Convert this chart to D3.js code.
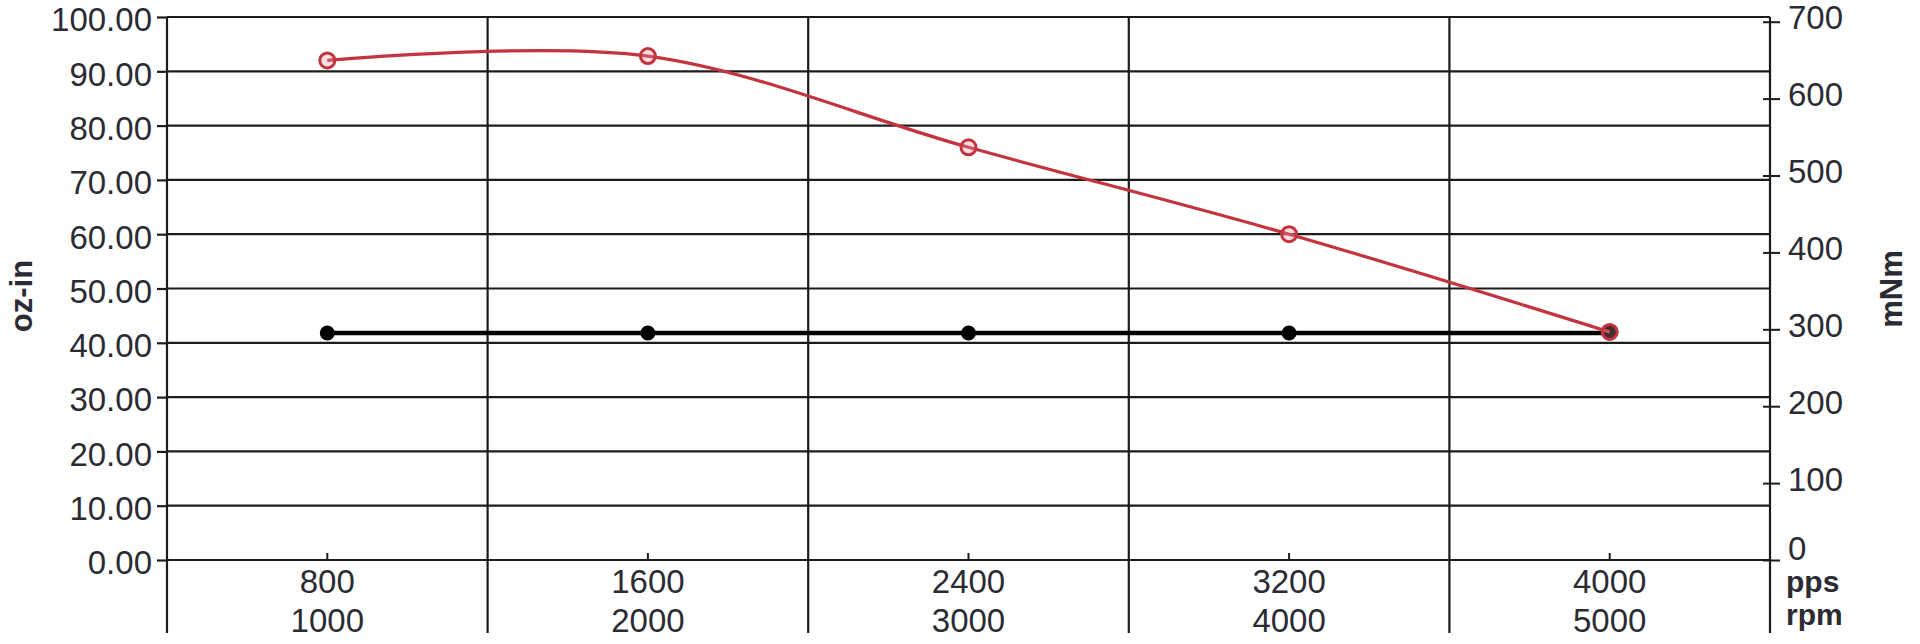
<!DOCTYPE html>
<html>
<head>
<meta charset="utf-8">
<script src="https://cdn.jsdelivr.net/npm/d3@7"></script>
<style>
  html, body { margin: 0; padding: 0; background: #fff; }
  svg { display: block; }
  text { font-family: "Liberation Sans", Arial, sans-serif; fill: #2b2b33; }
</style>
</head>
<body>
<svg id="chart" width="1920" height="644"></svg>
<script>
// ---- data ----
const ppsLabels = ["800", "1600", "2400", "3200", "4000"];
const rpmLabels = ["1000", "2000", "3000", "4000", "5000"];
const torqueRed = [92, 92.8, 76, 60, 42];     // oz-in
const torqueBlack = [41.8, 41.8, 41.8, 41.8, 41.8]; // oz-in
const leftTicks = [0, 10, 20, 30, 40, 50, 60, 70, 80, 90, 100];
const rightTicks = [0, 100, 200, 300, 400, 500, 600, 700];
const OZIN_TO_MNM = 7.0615;

const svg = d3.select("#chart");
const L = 167, R = 1770, T = 17, B = 560, BOTTOM_EXT = 633;

const x = d3.scaleBand().domain(ppsLabels).range([L, R]).paddingInner(0).paddingOuter(0);
const xc = d => x(d) + x.bandwidth() / 2;
const y = d3.scaleLinear().domain([0, 100]).range([B, T]);
const y2 = d3.scaleLinear().domain([0, 100 * OZIN_TO_MNM]).range([B, T]);

const ink = "#1c1c1c";

// horizontal grid
svg.append("g").selectAll("line").data(leftTicks).join("line")
  .attr("x1", L).attr("x2", R)
  .attr("y1", d => y(d)).attr("y2", d => y(d))
  .attr("stroke", ink).attr("stroke-width", 2.2);

// vertical grid (band boundaries)
const bounds = ppsLabels.map(d => x(d)).concat([R]);
svg.append("g").selectAll("line").data(bounds).join("line")
  .attr("x1", d => d).attr("x2", d => d)
  .attr("y1", T).attr("y2", BOTTOM_EXT)
  .attr("stroke", ink).attr("stroke-width", 2.2);

// left axis
const leftAxis = d3.axisLeft(y).tickValues(leftTicks).tickFormat(d3.format(".2f")).tickSize(10).tickPadding(5);
const gL = svg.append("g").attr("transform", `translate(${L},0)`).call(leftAxis);
gL.select(".domain").remove();
gL.selectAll(".tick line").attr("stroke", ink).attr("stroke-width", 2.2);
gL.selectAll(".tick text").attr("font-size", 33).attr("dy", "0.42em").style("fill", "#2b2b33");

// right axis
const rightAxis = d3.axisRight(y2).tickValues(rightTicks).tickFormat(d3.format("d")).tickSize(10).tickPadding(8);
const gR = svg.append("g").attr("transform", `translate(${R},0)`).call(rightAxis);
gR.select(".domain").remove();
gR.selectAll(".tick line").attr("x1", -7).attr("stroke", ink).attr("stroke-width", 2);
gR.selectAll(".tick text").attr("font-size", 33).attr("dy", "0.22em").style("fill", "#2b2b33");
gR.selectAll(".tick").filter(d => d === 0).select("text").attr("dy", "-0.02em");

// bottom axis (ticks upward at band centers)
const gB = svg.append("g");
gB.selectAll("line").data(ppsLabels).join("line")
  .attr("x1", d => xc(d)).attr("x2", d => xc(d))
  .attr("y1", B - 7).attr("y2", B)
  .attr("stroke", ink).attr("stroke-width", 2);
gB.selectAll("text.pps").data(ppsLabels).join("text").attr("class", "pps")
  .attr("x", d => xc(d)).attr("y", 593)
  .attr("text-anchor", "middle").attr("font-size", 33).text(d => d);
gB.selectAll("text.rpm").data(rpmLabels).join("text").attr("class", "rpm")
  .attr("x", (d, i) => xc(ppsLabels[i])).attr("y", 632)
  .attr("text-anchor", "middle").attr("font-size", 33).text(d => d);

// unit labels
svg.append("text").attr("x", 1786).attr("y", 592).attr("font-size", 30).attr("font-weight", "bold").text("pps");
svg.append("text").attr("x", 1786).attr("y", 625).attr("font-size", 30).attr("font-weight", "bold").text("rpm");

// axis titles
svg.append("text").attr("transform", "translate(32,296) rotate(-90)")
  .attr("text-anchor", "middle").attr("font-size", 31).attr("font-weight", "bold").text("oz-in");
svg.append("text").attr("transform", "translate(1902,289) rotate(-90)")
  .attr("text-anchor", "middle").attr("font-size", 31).attr("font-weight", "bold").text("mNm");

// black series
const lineBlack = d3.line().x((d, i) => xc(ppsLabels[i])).y(d => y(d));
svg.append("path").datum(torqueBlack).attr("d", lineBlack)
  .attr("fill", "none").attr("stroke", "#000").attr("stroke-width", 4.5);
svg.append("g").selectAll("circle").data(torqueBlack).join("circle")
  .attr("cx", (d, i) => xc(ppsLabels[i])).attr("cy", d => y(d)).attr("r", 7.5).attr("fill", "#000");

// red series
const lineRed = d3.line().x((d, i) => xc(ppsLabels[i])).y(d => y(d)).curve(d3.curveCardinal.tension(0));
svg.append("path").datum(torqueRed).attr("d", lineRed)
  .attr("fill", "none").attr("stroke", "#c4343f").attr("stroke-width", 3.2);
svg.append("g").selectAll("circle").data(torqueRed).join("circle")
  .attr("cx", (d, i) => xc(ppsLabels[i])).attr("cy", d => y(d)).attr("r", 7.5)
  .attr("fill", "rgba(240,150,160,0.3)").attr("stroke", "#c4343f").attr("stroke-width", 3);
</script>
</body>
</html>
